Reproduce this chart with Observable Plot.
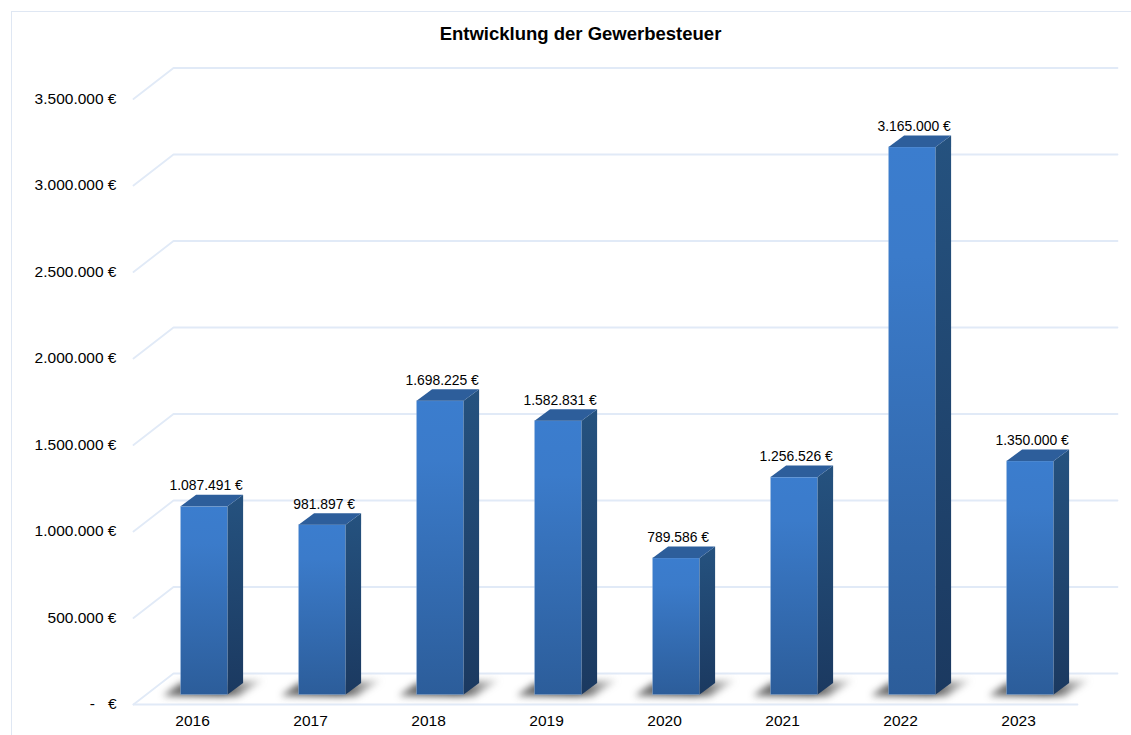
<!DOCTYPE html>
<html lang="de">
<head>
<meta charset="utf-8">
<title>Entwicklung der Gewerbesteuer</title>
<script src="https://cdn.jsdelivr.net/npm/d3@7"></script>
<script src="https://cdn.jsdelivr.net/npm/@observablehq/plot@0.6"></script>
<style>
  html, body { margin: 0; padding: 0; background: #fff; width: 1131px; height: 735px; overflow: hidden; }
  #chart { position: relative; width: 1131px; height: 735px; }
  #chart svg { position: absolute; left: 0; top: 0; display: block; background: transparent; }
  #edge { position: absolute; left: 11px; top: 11px; right: 0; bottom: 0;
          border-left: 1.5px solid #dfe7f3; border-top: 1.5px solid #dfe7f3; }
</style>
</head>
<body>
<div id="chart"><div id="edge"></div></div>
<script>
// Gewerbesteuer je Jahr
const years = [2016, 2017, 2018, 2019, 2020, 2021, 2022, 2023];
const revenue = [1087491, 981897, 1698225, 1582831, 789586, 1256526, 3165000, 1350000];
const yTicks = [0, 500000, 1000000, 1500000, 2000000, 2500000, 3000000, 3500000];
const chartTitle = "Entwicklung der Gewerbesteuer";

// Pseudo-3D geometry, in scale units: one year is one x unit, y is in euros.
const pxX = 1 / 118;
const pxY = 500000 / 86.5;
const wallX = 40 * pxX, wallY = 31 * pxY;      // depth of the chart floor
const barLeft = 47.6 * pxX, barRight = 94.6 * pxX; // front face within a year's band
const sideX = 15.5 * pxX, sideY = 11.5 * pxY;  // depth of a column
const baseY = 9.5 * pxY;                       // columns stand back from the floor edge

const euro = new Intl.NumberFormat("de-DE", {maximumFractionDigits: 0});
const tickLabel = v => v === 0 ? "-   €" : `${euro.format(v)} €`;

const bars = years.map((year, i) => ({
  year, value: revenue[i],
  L: i + barLeft, R: i + barRight,
  bottom: baseY, top: revenue[i] + baseY
}));

const gridPoints = yTicks.flatMap(t => [
  {t, x: 0, y: t},
  {t, x: wallX, y: t + wallY},
  {t, x: years.length + wallX, y: t + wallY}
]);

// Front edge of the floor
const floorEdge = [{x: 0, y: 0}, {x: years.length, y: 0}];

const sidePoints = bars.flatMap(b => [
  {year: b.year, x: b.R, y1: b.bottom, y2: b.top},
  {year: b.year, x: b.R + sideX, y1: b.bottom + sideY, y2: b.top + sideY}
]);

const capPoints = bars.flatMap(b => [
  {year: b.year, x: b.L, y1: b.top, y2: b.top},
  {year: b.year, x: b.L + sideX, y1: b.top, y2: b.top + sideY},
  {year: b.year, x: b.R, y1: b.top, y2: b.top + sideY},
  {year: b.year, x: b.R + sideX, y1: b.top + sideY, y2: b.top + sideY}
]);

const shadowPoints = bars.flatMap(b => [
  {year: b.year, x: b.L - sideX * 1.15, y1: b.bottom - sideY * 0.1, y2: b.bottom - sideY * 0.1},
  {year: b.year, x: b.L, y1: b.bottom - sideY * 0.15, y2: b.bottom + sideY},
  {year: b.year, x: b.R + sideX * 0.7, y1: b.bottom - sideY * 0.15, y2: b.bottom + sideY * 1.15},
  {year: b.year, x: b.R + sideX * 2.3, y1: b.bottom + sideY * 1.25, y2: b.bottom + sideY * 1.25}
]);

// Vertical gradients shared by all column faces
function gradients() {
  const defs = d3.create("svg:defs");
  const add = (id, stops, x2 = 0, y2 = 1) => {
    const g = defs.append("linearGradient").attr("id", id)
      .attr("x1", 0).attr("y1", 0).attr("x2", x2).attr("y2", y2);
    stops.forEach(([o, c, a = 1]) =>
      g.append("stop").attr("offset", o).attr("stop-color", c).attr("stop-opacity", a));
  };
  add("barFront", [[0, "#3b7dce"], [0.2, "#3b7bca"], [1, "#2c5d9a"]]);
  add("barSide", [[0, "#25527f"], [1, "#1b3960"]]);
  add("barShadow", [[0, "#222", 0.6], [0.6, "#222", 0.85], [1, "#666", 0.2]], 1, 0);
  return defs.node();
}

const plot = Plot.plot({
  width: 1131,
  height: 735,
  marginLeft: 133,
  marginRight: 54,
  marginTop: 98.5,
  marginBottom: 31,
  style: {background: "transparent", fontFamily: "'Liberation Sans', Arial, sans-serif", color: "#000"},
  x: {domain: [0, years.length], axis: null},
  y: {domain: [0, 3500000], axis: null},
  marks: [
    gradients,
    Plot.line(gridPoints, {x: "x", y: "y", z: "t", stroke: "#e1eaf7", strokeWidth: 1.8}),
    Plot.line(floorEdge, {x: "x", y: "y", stroke: "#e1eaf7", strokeWidth: 1.8}),
    Plot.area(shadowPoints, {x1: "x", y1: "y1", y2: "y2", z: "year", fill: "url(#barShadow)", imageFilter: "blur(3.5px)"}),
    Plot.rect(bars, {x1: "L", x2: "R", y1: "bottom", y2: "top", fill: "url(#barFront)", stroke: "#8fb2dd", strokeWidth: 0.8, strokeOpacity: 0.55}),
    Plot.area(sidePoints, {x1: "x", y1: "y1", y2: "y2", z: "year", fill: "url(#barSide)"}),
    Plot.area(capPoints, {x1: "x", y1: "y1", y2: "y2", z: "year", fill: "#2d5e9b"}),
    Plot.text(bars, {
      x: d => d.L + (d.R - d.L) / 2 + 1.5 * pxX, y: "top", text: d => `${euro.format(d.value)} €`,
      dy: -21, fontSize: 13.9, fill: "#000", stroke: "none"
    }),
    Plot.axisY({ticks: yTicks, tickFormat: tickLabel, tickSize: 0, tickPadding: 17, label: null, fontSize: 15.5, fill: "#000"}),
    Plot.axisX({ticks: years.map((_, i) => i + 0.5), tickFormat: v => String(years[Math.floor(v)]), tickSize: 0, tickPadding: 10, label: null, fontSize: 15.5, fill: "#000"}),
    Plot.text([chartTitle], {
      frameAnchor: "top", dy: -72, dx: -25, fontSize: 18.5, fontWeight: "bold", fill: "#000", lineWidth: 60
    })
  ]
});
document.getElementById("chart").append(plot);
</script>
</body>
</html>
